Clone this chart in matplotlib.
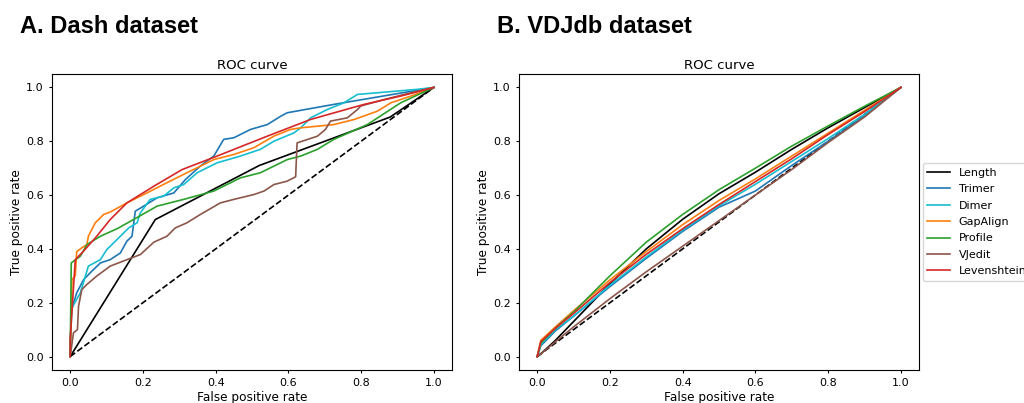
import matplotlib
matplotlib.use("Agg")
import matplotlib.pyplot as plt

# ---------------- Data: Dash dataset (panel A) ----------------
dash_length_fpr = [0.0, 0.234, 0.52, 0.88, 1.0]
dash_length_tpr = [0.0, 0.509, 0.71, 0.89, 1.0]

dash_trimer_fpr = [0.0, 0.003, 0.018, 0.037, 0.055, 0.083, 0.11, 0.138, 0.156, 0.17, 0.179, 0.202, 0.239, 0.285, 0.317, 0.358, 0.395, 0.422, 0.45, 0.496, 0.542, 0.579, 0.597, 0.725, 1.0]
dash_trimer_tpr = [0.0, 0.17, 0.237, 0.286, 0.311, 0.348, 0.36, 0.385, 0.429, 0.447, 0.54, 0.559, 0.59, 0.608, 0.658, 0.708, 0.745, 0.807, 0.813, 0.844, 0.862, 0.893, 0.906, 0.937, 1.0]

dash_dimer_fpr = [0.0, 0.0, 0.005, 0.028, 0.05, 0.083, 0.101, 0.129, 0.161, 0.184, 0.193, 0.22, 0.257, 0.285, 0.312, 0.349, 0.404, 0.468, 0.523, 0.56, 0.615, 0.634, 0.661, 0.707, 0.753, 0.79, 0.955, 1.0]
dash_dimer_tpr = [0.0, 0.057, 0.181, 0.237, 0.336, 0.36, 0.398, 0.435, 0.478, 0.497, 0.534, 0.584, 0.596, 0.627, 0.639, 0.683, 0.72, 0.745, 0.77, 0.80, 0.831, 0.85, 0.887, 0.918, 0.943, 0.974, 0.993, 1.0]

dash_gapalign_fpr = [0.0, 0.005, 0.014, 0.018, 0.032, 0.046, 0.05, 0.069, 0.092, 0.11, 0.156, 0.211, 0.266, 0.321, 0.395, 0.45, 0.505, 0.56, 0.606, 0.634, 0.725, 0.781, 0.845, 0.882, 0.937, 1.0]
dash_gapalign_tpr = [0.0, 0.286, 0.30, 0.39, 0.404, 0.416, 0.447, 0.497, 0.528, 0.537, 0.571, 0.608, 0.646, 0.683, 0.732, 0.751, 0.776, 0.819, 0.844, 0.85, 0.862, 0.881, 0.912, 0.943, 0.968, 1.0]

dash_profile_fpr = [0.0, 0.003, 0.028, 0.046, 0.083, 0.129, 0.174, 0.239, 0.312, 0.395, 0.468, 0.523, 0.597, 0.634, 0.68, 0.725, 0.817, 0.909, 1.0]
dash_profile_tpr = [0.0, 0.348, 0.373, 0.416, 0.447, 0.475, 0.509, 0.559, 0.584, 0.615, 0.664, 0.683, 0.732, 0.745, 0.77, 0.807, 0.862, 0.943, 1.0]

dash_vjedit_fpr = [0.0, 0.009, 0.02, 0.023, 0.032, 0.046, 0.073, 0.11, 0.156, 0.193, 0.23, 0.266, 0.289, 0.321, 0.358, 0.413, 0.45, 0.505, 0.533, 0.56, 0.597, 0.62, 0.624, 0.68, 0.702, 0.716, 0.762, 0.79, 0.799, 0.863, 0.937, 1.0]
dash_vjedit_tpr = [0.0, 0.088, 0.10, 0.187, 0.249, 0.268, 0.299, 0.336, 0.36, 0.379, 0.425, 0.447, 0.478, 0.497, 0.528, 0.571, 0.584, 0.602, 0.615, 0.639, 0.652, 0.668, 0.794, 0.819, 0.844, 0.875, 0.887, 0.918, 0.931, 0.955, 0.98, 1.0]

dash_lev_fpr = [0.0, 0.0, 0.014, 0.037, 0.073, 0.11, 0.156, 0.23, 0.308, 0.404, 0.542, 0.661, 0.808, 0.909, 1.0]
dash_lev_tpr = [0.0, 0.063, 0.36, 0.392, 0.447, 0.509, 0.571, 0.633, 0.695, 0.745, 0.819, 0.881, 0.937, 0.968, 1.0]

# ---------------- Data: VDJdb dataset (panel B) ----------------
vdj_fpr = [0.0, 0.01, 0.05, 0.1, 0.2, 0.3, 0.4, 0.5, 0.6, 0.7, 0.8, 0.9, 1.0]
vdj_length_tpr   = [0.0, 0.01, 0.06, 0.13, 0.27, 0.40, 0.51, 0.605, 0.685, 0.77, 0.85, 0.925, 1.0]
vdj_trimer_tpr   = [0.0, 0.04, 0.095, 0.15, 0.26, 0.365, 0.465, 0.555, 0.615, 0.71, 0.80, 0.895, 1.0]
vdj_dimer_tpr    = [0.0, 0.045, 0.10, 0.15, 0.265, 0.37, 0.47, 0.56, 0.64, 0.725, 0.81, 0.90, 1.0]
vdj_gapalign_tpr = [0.0, 0.06, 0.11, 0.17, 0.285, 0.39, 0.49, 0.58, 0.66, 0.745, 0.83, 0.915, 1.0]
vdj_profile_tpr  = [0.0, 0.05, 0.105, 0.165, 0.30, 0.425, 0.528, 0.62, 0.70, 0.782, 0.857, 0.93, 1.0]
vdj_vjedit_tpr   = [0.0, 0.01, 0.055, 0.11, 0.215, 0.315, 0.41, 0.505, 0.60, 0.695, 0.795, 0.89, 1.0]
vdj_lev_tpr      = [0.0, 0.055, 0.105, 0.16, 0.275, 0.38, 0.475, 0.565, 0.65, 0.735, 0.825, 0.91, 1.0]

labels = ["Length", "Trimer", "Dimer", "GapAlign", "Profile", "VJedit", "Levenshtein"]
colors = ["black", "#1f77b4", "#17becf", "#ff7f0e", "#2ca02c", "#8c564b", "#d62728"]

dash_series = [
    (dash_length_fpr, dash_length_tpr),
    (dash_trimer_fpr, dash_trimer_tpr),
    (dash_dimer_fpr, dash_dimer_tpr),
    (dash_gapalign_fpr, dash_gapalign_tpr),
    (dash_profile_fpr, dash_profile_tpr),
    (dash_vjedit_fpr, dash_vjedit_tpr),
    (dash_lev_fpr, dash_lev_tpr),
]
vdj_series = [
    (vdj_fpr, vdj_length_tpr),
    (vdj_fpr, vdj_trimer_tpr),
    (vdj_fpr, vdj_dimer_tpr),
    (vdj_fpr, vdj_gapalign_tpr),
    (vdj_fpr, vdj_profile_tpr),
    (vdj_fpr, vdj_vjedit_tpr),
    (vdj_fpr, vdj_lev_tpr),
]

plt.rcParams['font.family'] = ['DejaVu Sans']

fig = plt.figure(figsize=(10.24, 4.03), dpi=100)
W, H = 1024, 403

def make_ax(x0, x1, y0, y1):
    return fig.add_axes([x0 / W, 1 - y1 / H, (x1 - x0) / W, (y1 - y0) / H])

axA = make_ax(52, 452, 74, 370)
axB = make_ax(519, 919, 74, 370)

for ax, series in ((axA, dash_series), (axB, vdj_series)):
    ax.plot([0, 1], [0, 1], 'k--', lw=1.2)
    for (x, y), lab, c in zip(series, labels, colors):
        ax.plot(x, y, color=c, lw=1.2, label=lab)
    ax.set_title("ROC curve", fontsize=9.5, pad=3.6)
    ax.set_xlabel("False positive rate", fontsize=8.7, labelpad=2)
    ax.set_ylabel("True positive rate", fontsize=8.7, labelpad=2)
    ax.set_xticks([0.0, 0.2, 0.4, 0.6, 0.8, 1.0])
    ax.set_yticks([0.0, 0.2, 0.4, 0.6, 0.8, 1.0])
    ax.tick_params(labelsize=8, length=2.5, width=0.8, pad=3.5)

axB.legend(loc='center left', bbox_to_anchor=(1.01, 0.5), fontsize=8,
           handlelength=2.0, borderaxespad=0, labelspacing=0.58)

fig.text(20 / W, 1 - 33 / H, "A. Dash dataset", fontsize=17, fontweight='bold',
         family=['Liberation Sans', 'DejaVu Sans'], va='baseline', ha='left')
fig.text(497 / W, 1 - 33 / H, "B. VDJdb dataset", fontsize=17, fontweight='bold',
         family=['Liberation Sans', 'DejaVu Sans'], va='baseline', ha='left')

fig.savefig("out.png", dpi=100)
